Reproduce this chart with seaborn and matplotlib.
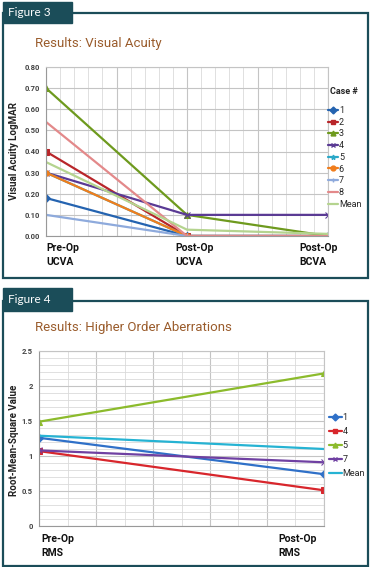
import numpy as np
import seaborn as sns
import matplotlib
matplotlib.use("Agg")
import matplotlib.pyplot as plt
from matplotlib.lines import Line2D
from matplotlib.patches import Rectangle
from matplotlib.ticker import MultipleLocator

# data - figure 3 (visual acuity, logMAR)
stages3 = ["Pre-Op\nUCVA", "Post-Op\nUCVA", "Post-Op\nBCVA"]
va_names = ["1", "2", "3", "4", "5", "6", "7", "8", "Mean"]
va_case1 = [0.18, 0.00, 0.00]
va_case2 = [0.40, 0.00, 0.00]
va_case3 = [0.70, 0.10, 0.00]
va_case4 = [0.30, 0.10, 0.10]
va_case5 = [0.30, 0.00, 0.00]
va_case6 = [0.30, 0.00, 0.00]
va_case7 = [0.10, 0.00, 0.00]
va_case8 = [0.54, 0.00, 0.00]
va_mean = [0.35, 0.03, 0.01]

# data - figure 4 (higher order aberrations, RMS)
stages4 = ["Pre-Op\nRMS", "Post-Op\nRMS"]
rms_names = ["1", "4", "5", "7", "Mean"]
rms_case1 = [1.26, 0.74]
rms_case4 = [1.07, 0.51]
rms_case5 = [1.49, 2.18]
rms_case7 = [1.08, 0.91]
rms_mean = [1.29, 1.10]

va_series = [va_case1, va_case2, va_case3, va_case4, va_case5,
             va_case6, va_case7, va_case8, va_mean]
va_colors = ["#2463b0", "#b8262a", "#6e9a1e", "#5a3a94", "#2aa8c8",
             "#f07d1c", "#8eaadc", "#e3898a", "#b5d48f"]
va_markers = ["D", "s", "^", "x", "*", "o", "+", None, None]

rms_series = [rms_case1, rms_case4, rms_case5, rms_case7, rms_mean]
rms_colors = ["#2f70c8", "#d8262c", "#8cbb2c", "#6f40a2", "#26b3d3"]
rms_markers = ["D", "s", "^", "x", None]

sns.set_style("white")
plt.rcParams["font.family"] = ["Roboto", "DejaVu Sans"]

W, H = 371, 567
fig = plt.figure(figsize=(W / 100, H / 100), dpi=100)

teal = "#1b4d59"
brown = "#9a5c2c"


def px_axes(l, t, r, b):
    return fig.add_axes([l / W, 1 - b / H, (r - l) / W, (b - t) / H])


def frame(top_line, bottom, tab_top, tab_bottom, label):
    fig.add_artist(Rectangle((3 / W, 1 - bottom / H), (368 - 3) / W, (bottom - top_line) / H,
                             transform=fig.transFigure, fill=False, ec=teal, lw=1.6))
    fig.add_artist(Rectangle((3 / W, 1 - tab_bottom / H), 69 / W, (tab_bottom - tab_top) / H,
                             transform=fig.transFigure, fc=teal, ec=teal, lw=1))
    fig.text(8 / W, 1 - (tab_top + tab_bottom) / 2 / H, label, color="white",
             fontsize=8.5, family=["Lato", "DejaVu Sans"], va="center", ha="left")


def style_axes(ax, ymax, ymajor, yminor, fmt):
    ax.set_ylim(0, ymax)
    ax.yaxis.set_major_locator(MultipleLocator(ymajor))
    if yminor:
        ax.yaxis.set_minor_locator(MultipleLocator(yminor))
    ax.xaxis.set_minor_locator(MultipleLocator(0.1))
    ax.grid(True, which="major", color="#c4c4c4", lw=0.8)
    ax.grid(True, which="minor", color="#dadada", lw=0.6)
    ax.set_axisbelow(True)
    for s in ax.spines.values():
        s.set_color("#c4c4c4")
        s.set_linewidth(0.8)
    ax.spines["left"].set_color("#999999")
    ax.spines["bottom"].set_color("#999999")
    ax.tick_params(axis="y", which="major", length=2.5, color="#999999", pad=2,
                   labelsize=5.5, labelcolor="#444444")
    ax.tick_params(axis="y", which="minor", length=0)
    ax.tick_params(axis="x", which="both", length=0, labelbottom=False)
    ax.set_yticklabels([fmt(v) for v in ax.get_yticks()], fontweight="bold")
    ax.set_xlabel("")
    ax.set_ylabel("")


def stage_labels(ax, xs, labels, offsets, y_px):
    # left-aligned two-line category labels, Excel style
    for xi, lab, off in zip(xs, labels, offsets):
        ax.annotate(lab, xy=(xi + off, 0), xycoords="data", xytext=(0, -y_px),
                    textcoords="offset pixels", ha="left", va="top",
                    fontsize=7.5, fontweight="bold", color="#111111",
                    linespacing=1.5, multialignment="left")


# ---------------- Figure 3 ----------------
frame(13, 278, 2, 23, "Figure 3")
fig.text(35 / W, 1 - 44 / H, "Results: Visual Acuity", color=brown, fontsize=9.5,
         family=["Roboto", "DejaVu Sans"], va="center")

ax1 = px_axes(46, 67, 328, 236)
x3 = np.arange(len(stages3))
for vals, c, m in zip(va_series, va_colors, va_markers):
    sns.lineplot(x=x3, y=vals, ax=ax1, color=c, marker=m, markersize=4,
                 markeredgecolor=c, linewidth=1.6)
ax1.set_xlim(0, len(stages3) - 1)
style_axes(ax1, 0.8, 0.1, None, lambda v: f"{v:.2f}")
fig.text(14 / W, 1 - 151 / H, "Visual Acuity LogMAR", rotation=90, fontsize=7,
         fontweight="bold", va="center", ha="center", color="#222222")
stage_labels(ax1, x3, stages3, [0.0, -0.08, -0.2], 7)

fig.text(330 / W, 1 - 92 / H, "Case #", fontsize=6.5, fontweight="bold", va="center")
h3 = [Line2D([], [], color=c, marker=m, markersize=3.5, markeredgecolor=c, lw=1.6)
      for c, m in zip(va_colors, va_markers)]
fig.legend(h3, va_names, loc="upper left", bbox_to_anchor=(328 / W, 1 - 106 / H),
           frameon=False, fontsize=6.5, handlelength=1.1, handletextpad=0.1,
           labelspacing=0.3, borderpad=0, borderaxespad=0)

# ---------------- Figure 4 ----------------
frame(301, 566, 288, 311, "Figure 4")
fig.text(35 / W, 1 - 328 / H, "Results: Higher Order Aberrations", color=brown, fontsize=9.5,
         family=["Roboto", "DejaVu Sans"], va="center")

ax2 = px_axes(39, 351, 324, 526)
x4 = np.arange(len(stages4))
for vals, c, m in zip(rms_series, rms_colors, rms_markers):
    sns.lineplot(x=x4, y=vals, ax=ax2, color=c, marker=m, markersize=4,
                 markeredgecolor=c, linewidth=1.6)
ax2.set_xlim(0, len(stages4) - 1)
style_axes(ax2, 2.5, 0.5, 0.1, lambda v: f"{v:g}")
fig.text(14 / W, 1 - 440 / H, "Root-Mean-Square Value", rotation=90, fontsize=7,
         fontweight="bold", va="center", ha="center", color="#222222")
stage_labels(ax2, x4, stages4, [0.01, -0.16], 8)

h4 = [Line2D([], [], color=c, marker=m, markersize=3.5, markeredgecolor=c, lw=1.6)
      for c, m in zip(rms_colors, rms_markers)]
fig.legend(h4, rms_names, loc="upper left", bbox_to_anchor=(329 / W, 1 - 413 / H),
           frameon=False, fontsize=6.5, handlelength=1.4, handletextpad=0.1,
           labelspacing=0.55, borderpad=0, borderaxespad=0)

fig.savefig("out.png", dpi=100)
